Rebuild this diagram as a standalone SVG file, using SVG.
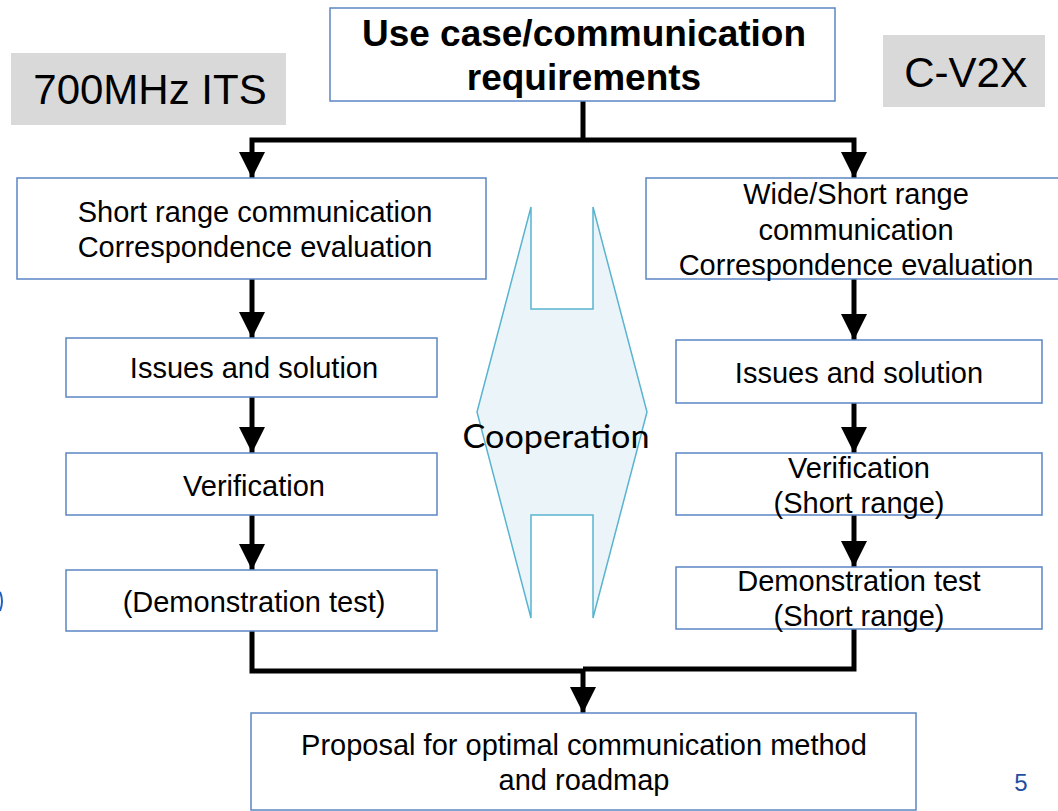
<svg xmlns="http://www.w3.org/2000/svg" width="1058" height="811" viewBox="0 0 1058 811">
<style>
.box{fill:#ffffff;stroke:#5b87c5;stroke-width:1.5}
.tag{fill:#d9d9d9}
.t{font-family:"Liberation Sans",Arial,sans-serif;font-size:29px;fill:#000;text-anchor:middle}
.big{font-size:42px}
.bold{font-weight:bold;font-size:37px}
.conn{fill:none;stroke:#000;stroke-width:5;stroke-linejoin:miter}
</style>
<defs>
<marker id="ah" viewBox="0 0 10 10" refX="10" refY="5" markerWidth="5.2" markerHeight="5.2" markerUnits="strokeWidth" orient="auto">
<path d="M0,0 L10,5 L0,10 Z" fill="#000"/>
</marker>
</defs>
<rect width="1058" height="811" fill="#ffffff"/>

<g id="tag-700">
<rect class="tag" x="11" y="53" width="275" height="72"/>
<text class="t big" x="150" y="104">700MHz ITS</text>
</g>
<g id="tag-cv2x">
<rect class="tag" x="883" y="35" width="162" height="72"/>
<text class="t big" x="966" y="87">C-V2X</text>
</g>

<g id="coop">
<polygon points="531,207 531,309 593,309 593,207 647,412 593,618 593,515 531,515 531,618 477,412" fill="#ebf5f9" stroke="#5ab4d0" stroke-width="1.5"/>
<text x="556" y="448" font-family="Lato,'Open Sans',sans-serif" font-size="33" text-anchor="middle" textLength="187" lengthAdjust="spacingAndGlyphs">Cooperation</text>
</g>

<g id="connectors">
<path class="conn" d="M583,101 V140"/>
<path class="conn" d="M583,140 H252 V178" marker-end="url(#ah)"/>
<path class="conn" d="M583,140 H854 V178" marker-end="url(#ah)"/>
<path class="conn" d="M252,279 V338" marker-end="url(#ah)"/>
<path class="conn" d="M252,397 V453" marker-end="url(#ah)"/>
<path class="conn" d="M252,515 V570" marker-end="url(#ah)"/>
<path class="conn" d="M854,279 V340" marker-end="url(#ah)"/>
<path class="conn" d="M854,403 V453" marker-end="url(#ah)"/>
<path class="conn" d="M854,515 V567" marker-end="url(#ah)"/>
<path class="conn" d="M252,631 V671 H583"/>
<path class="conn" d="M854,629 V669 H583"/>
<path class="conn" d="M583,669 V713" marker-end="url(#ah)"/>
</g>

<g id="top">
<rect class="box" x="330" y="8" width="505" height="93"/>
<text class="t bold" x="584" y="46">Use case/communication</text>
<text class="t bold" x="584" y="90">requirements</text>
</g>

<g id="l1">
<rect class="box" x="17" y="178" width="469" height="101"/>
<text class="t" x="255" y="222">Short range communication</text>
<text class="t" x="255" y="257">Correspondence evaluation</text>
</g>
<g id="l2">
<rect class="box" x="66" y="338" width="371" height="59"/>
<text class="t" x="254" y="378">Issues and solution</text>
</g>
<g id="l3">
<rect class="box" x="66" y="453" width="371" height="62"/>
<text class="t" x="254" y="496">Verification</text>
</g>
<g id="l4">
<rect class="box" x="66" y="570" width="371" height="61"/>
<text class="t" x="254" y="612">(Demonstration test)</text>
</g>

<g id="r1">
<rect class="box" x="646" y="178" width="420" height="101"/>
<text class="t" x="856" y="204">Wide/Short range</text>
<text class="t" x="856" y="240">communication</text>
<text class="t" x="856" y="275">Correspondence evaluation</text>
</g>
<g id="r2">
<rect class="box" x="676" y="340" width="366" height="63"/>
<text class="t" x="859" y="383">Issues and solution</text>
</g>
<g id="r3">
<rect class="box" x="676" y="453" width="366" height="62"/>
<text class="t" x="859" y="478">Verification</text>
<text class="t" x="859" y="513">(Short range)</text>
</g>
<g id="r4">
<rect class="box" x="676" y="567" width="366" height="62"/>
<text class="t" x="859" y="591">Demonstration test</text>
<text class="t" x="859" y="626">(Short range)</text>
</g>

<g id="bottom">
<rect class="box" x="251" y="713" width="665" height="97"/>
<text class="t" x="584" y="755">Proposal for optimal communication method</text>
<text class="t" x="584" y="790">and roadmap</text>
</g>

<text x="1021" y="791" font-family="'Liberation Sans',Arial,sans-serif" font-size="24" fill="#1f4fa0" text-anchor="middle">5</text>
<path d="M0,592 Q4,601 0,611" fill="none" stroke="#1f5fc0" stroke-width="2"/>
</svg>
